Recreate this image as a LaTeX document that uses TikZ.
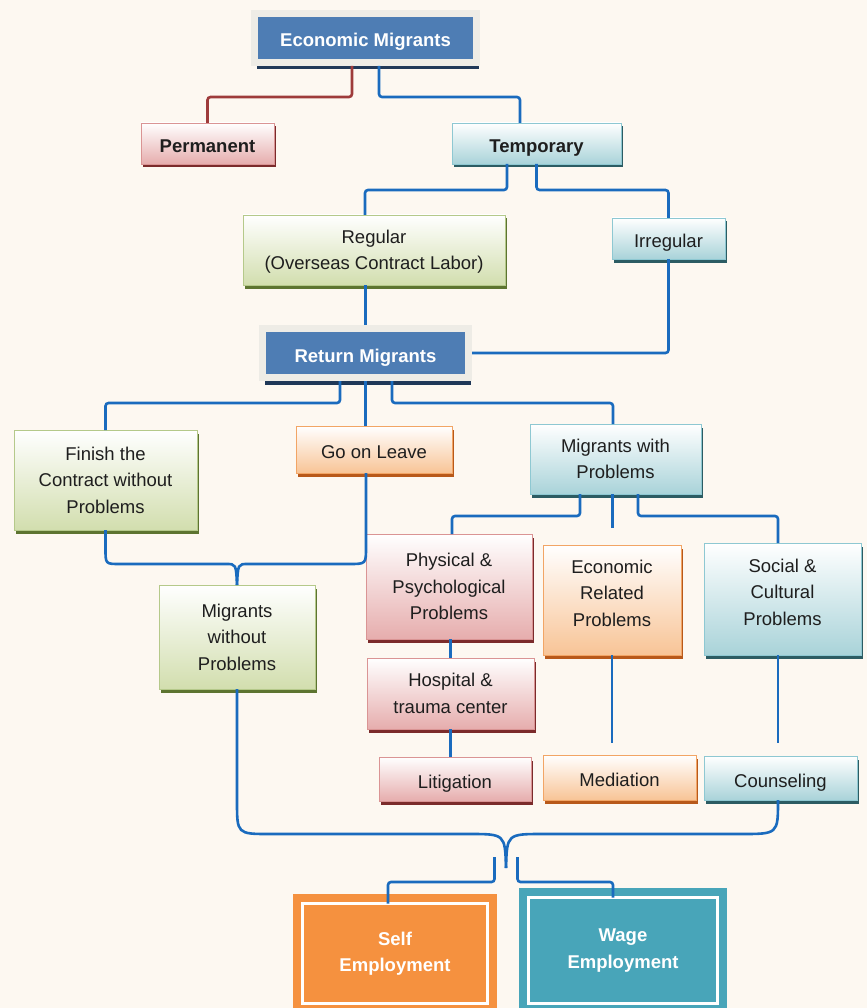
\documentclass[tikz,border=0pt]{standalone}
\usepackage{fontspec}
\setmainfont{Liberation Sans}
\usetikzlibrary{shadows}

\definecolor{bgcream}{HTML}{FDF8F1}
\definecolor{textdark}{HTML}{1E1E1E}
\definecolor{headblue}{HTML}{4E7DB4}
\definecolor{headframe}{HTML}{EEECE6}
\definecolor{headshadow}{HTML}{1F3858}
\definecolor{linkblue}{HTML}{1A6BBE}
\definecolor{linkred}{HTML}{9E3B3B}
\definecolor{pinkfill}{HTML}{E6ADAD}
\definecolor{pinkline}{HTML}{DA9494}
\definecolor{pinkshadow}{HTML}{7B2B2B}
\definecolor{cyanfill}{HTML}{A9D3D9}
\definecolor{cyanline}{HTML}{8EC8D2}
\definecolor{cyanshadow}{HTML}{2C5C63}
\definecolor{greenfill}{HTML}{D2DEAE}
\definecolor{greenline}{HTML}{B5C98A}
\definecolor{greenshadow}{HTML}{5D7430}
\definecolor{orangefill}{HTML}{F8C496}
\definecolor{orangeline}{HTML}{F2A565}
\definecolor{orangeshadow}{HTML}{B8591A}
\definecolor{selforange}{HTML}{F5913F}
\definecolor{wageteal}{HTML}{48A5B9}

\tikzset{
  box/.style={rectangle, line width=0.9pt, outer sep=0pt, align=center, inner sep=2pt,
    text=textdark, font=\fontsize{18.5}{26.5}\selectfont},
  oneline/.style={text height=18pt, text depth=0pt},
  shade box/.style 2 args={box, draw=#1, top color=white, bottom color=#2},
  shadowed/.style={drop shadow={shadow xshift=2pt, shadow yshift=-3.5pt, fill=#1, opacity=1}},
  pinkbox/.style={shade box={pinkline}{pinkfill}, shadowed=pinkshadow},
  cyanbox/.style={shade box={cyanline}{cyanfill}, shadowed=cyanshadow},
  greenbox/.style={shade box={greenline}{greenfill}, shadowed=greenshadow},
  orangebox/.style={shade box={orangeline}{orangefill}, shadowed=orangeshadow},
  headbox/.style={rectangle, fill=headblue, draw=headframe, line width=7pt, outer sep=3.5pt,
    text=white, font=\fontsize{18.5}{26.5}\selectfont\bfseries, oneline,
    drop shadow={shadow xshift=2.5pt, shadow yshift=-7pt, fill=headshadow, opacity=1}},
  empbox/.style={rectangle, fill=#1, draw=white, line width=2.2pt, outer sep=0pt,
    preaction={draw=#1, line width=19pt}, align=center, text=white,
    font=\fontsize{18.5}{26.5}\selectfont\bfseries},
  link/.style={draw=linkblue, line width=2.6pt, rounded corners=3pt},
  redlink/.style={link, draw=linkred},
}

\begin{document}
\begin{tikzpicture}[x=1pt, y=-1pt]
\fill[bgcream] (0,0) rectangle (867,1008);
\useasboundingbox (0,0) rectangle (867,1008);

% top levels
\node[headbox, minimum width=222, minimum height=49] (econ) at (365.5,38) {Economic Migrants};
\node[pinkbox, oneline, font=\fontsize{18.5}{26.5}\selectfont\bfseries, minimum width=133, minimum height=41] (perm) at (207.5,143.5) {Permanent};
\node[cyanbox, oneline, font=\fontsize{18.5}{26.5}\selectfont\bfseries, minimum width=169, minimum height=41] (temp) at (536.5,143.5) {Temporary};

\node[greenbox, text depth=0pt, minimum width=262, minimum height=70] (regular) at (374,250) {Regular\\(Overseas Contract Labor)};
\node[cyanbox, oneline, minimum width=113, minimum height=41] (irregular) at (668.5,238.5) {Irregular};

\node[headbox, minimum width=206, minimum height=49] (ret) at (365.5,353) {Return Migrants};

% return branches
\node[greenbox, minimum width=183, minimum height=100] (finish) at (105.5,480) {Finish the\\Contract without\\Problems};
\node[orangebox, oneline, minimum width=156, minimum height=47] (leave) at (374,449.5) {Go on Leave};
\node[cyanbox, minimum width=171, minimum height=70] (mwp) at (615.5,459) {Migrants with\\Problems};
\node[greenbox, minimum width=156, minimum height=104] (mwo) at (237,637) {Migrants\\without\\Problems};

% problems
\node[pinkbox, minimum width=166, minimum height=105] (phys) at (449,586.5) {Physical \&\\Psychological\\Problems};
\node[orangebox, text depth=14pt, minimum width=138, minimum height=110] (econp) at (612,600) {Economic\\Related\\Problems};
\node[cyanbox, text depth=14pt, minimum width=157, minimum height=112] (social) at (782.5,599) {Social \&\\Cultural\\Problems};
\node[pinkbox, minimum width=167, minimum height=71] (hosp) at (450.5,693.5) {Hospital \&\\trauma center};
\node[pinkbox, oneline, minimum width=152, minimum height=44] (litig) at (455,779) {Litigation};
\node[orangebox, oneline, minimum width=153, minimum height=45] (media) at (619.5,777.5) {Mediation};
\node[cyanbox, oneline, minimum width=153, minimum height=44] (couns) at (780.5,778) {Counseling};

% employment
\node[empbox=selforange, minimum width=185, minimum height=100] (self) at (395,953.5) {Self\\Employment};
\node[empbox=wageteal, minimum width=189, minimum height=106] (wage) at (623,950.5) {Wage\\Employment};

\coordinate (mwpend) at (612.5,528);
\coordinate (mediaend) at (612,743);
\coordinate (counsend) at (778,743);
\coordinate (tip) at (506,868);

% connectors
\draw[redlink] ([xshift=-13.5pt]econ.south) -- ++(0,31) -| (perm.north);
\draw[link] ([xshift=13.5pt]econ.south) -- ++(0,31) -| ([xshift=-16.5pt]temp.north);
\draw[link] ([xshift=-29.5pt]temp.south) -- ++(0,26) -| ([xshift=-9pt]regular.north);
\draw[link] (temp.south) -- ++(0,26) -| (irregular.north);
\draw[link] (ret.north |- regular.south) -- (ret.north);
\draw[link] (irregular.south) |- (ret.east);

\draw[link] ([xshift=-25.5pt]ret.south) -- ++(0,22) -| (finish.north);
\draw[link] (ret.south) -- (ret.south |- leave.north);
\draw[link] ([xshift=26.5pt]ret.south) -- ++(0,22) -| ([xshift=-2.5pt]mwp.north);

\draw[link] ([xshift=-35.5pt]mwp.south) -- ++(0,22) -| ([xshift=3pt]phys.north);
\draw[link] ([xshift=-3pt]mwp.south) -- (mwpend);
\draw[link] ([xshift=22.5pt]mwp.south) -- ++(0,22) -| ([xshift=-4.5pt]social.north);
\draw[link] (hosp.north |- phys.south) -- (hosp.north);
\draw[link] (hosp.south) -- (hosp.south |- litig.north);
\draw[link] (econp.south) -- (mediaend);
\draw[link] ([xshift=-4.5pt]social.south) -- (counsend);

% merging braces
\draw[link] (finish.south) -- (105.5,546) .. controls (105.5,564) .. (123,564) -- (223,564) .. controls (236,564) .. (mwo.north);
\draw[link] ([xshift=-8pt]leave.south) -- (366,544) .. controls (366,564) .. (346,564) -- (251,564) .. controls (238,564) .. (mwo.north);
\draw[link] (mwo.south) -- (237,798) .. controls (237,834) .. (273,834) -- (466,834) .. controls (505,834) .. (tip);
\draw[link] ([xshift=-2.5pt]couns.south) .. controls (778,834) .. (738,834) -- (546,834) .. controls (507,834) .. (tip);

\draw[link] ([xshift=-11.5pt,yshift=11pt]tip) -- ++(0,25) -| ([xshift=-7pt]self.north);
\draw[link] ([xshift=11.5pt,yshift=11pt]tip) -- ++(0,25) -| ([xshift=-10pt]wage.north);

\end{tikzpicture}
\end{document}
